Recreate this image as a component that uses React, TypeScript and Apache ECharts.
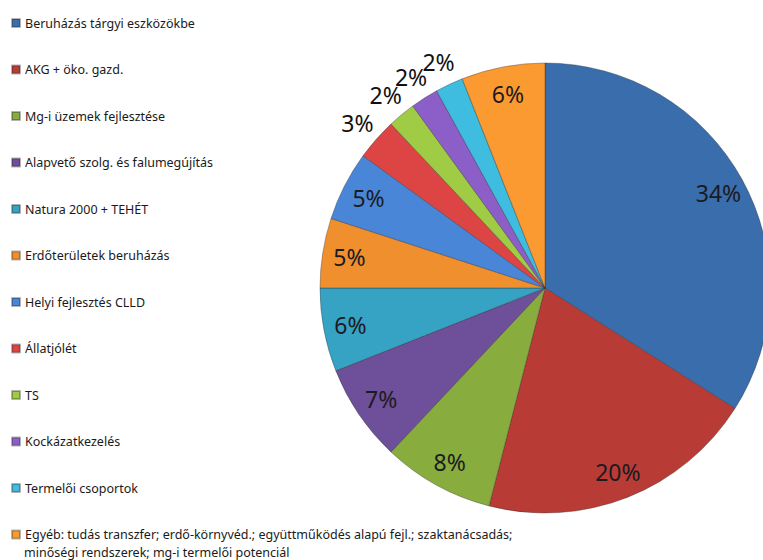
import React, { useEffect, useRef } from "react";
import * as echarts from "echarts";

const categories = [
  "Beruházás tárgyi eszközökbe",
  "AKG + öko. gazd.",
  "Mg-i üzemek fejlesztése",
  "Alapvető szolg. és falumegújítás",
  "Natura 2000 + TEHÉT",
  "Erdőterületek beruházás",
  "Helyi fejlesztés CLLD",
  "Állatjólét",
  "TS",
  "Kockázatkezelés",
  "Termelői csoportok",
  "Egyéb: tudás transzfer; erdő-környvéd.; együttműködés alapú fejl.; szaktanácsadás;\nminőségi rendszerek; mg-i termelői potenciál",
];

const shares = [34, 20, 8, 7, 6, 5, 5, 3, 2, 2, 2, 6];

const colors = [
  "#3A6DAC",
  "#B83B36",
  "#88AC3D",
  "#6E4F99",
  "#36A3C4",
  "#F08F2E",
  "#4A86D8",
  "#DD4544",
  "#9FCB45",
  "#8C5FC8",
  "#3FBDE0",
  "#FB9A30",
];

const INSIDE_MIN = 5;

export default function App() {
  const ref = useRef<HTMLDivElement>(null);

  useEffect(() => {
    if (!ref.current) return;
    const chart = echarts.init(ref.current, null, { renderer: "svg" });

    const mainData = categories.map((name, i) => ({
      name,
      value: shares[i],
      itemStyle: { color: colors[i] },
    }));

    const insideLabelData = categories.map((name, i) => ({
      name,
      value: shares[i],
      label: { show: shares[i] >= INSIDE_MIN },
    }));
    const outsideLabelData = categories.map((name, i) => ({
      name,
      value: shares[i],
      label: { show: shares[i] < INSIDE_MIN },
    }));

    const labelFont = {
      fontFamily: "'Noto Sans', sans-serif",
      fontSize: 23,
      color: "#1b1b22",
      formatter: "{c}%",
    };

    const legendFont = "'Noto Sans', sans-serif";
    const lastParts = categories[categories.length - 1].split("\n");

    const overlayBase = {
      type: "pie",
      center: [545, 288],
      startAngle: 90,
      clockwise: true,
      silent: true,
      avoidLabelOverlap: false,
      labelLayout: { hideOverlap: false },
      itemStyle: { color: "rgba(0,0,0,0)" },
      labelLine: { show: false },
      emphasis: { disabled: true },
    };

    chart.setOption({
      animation: false,
      backgroundColor: "#ffffff",
      legend: {
        orient: "vertical",
        left: 11,
        top: 15,
        padding: 0,
        itemWidth: 8,
        itemHeight: 8,
        itemGap: 30.5,
        icon: "rect",
        selectedMode: false,
        textStyle: {
          fontFamily: legendFont,
          fontSize: 12.5,
          lineHeight: 16,
          color: "#1a1a1a",
        },
        formatter: (name: string) => name.split("\n")[0],
        data: categories.map((name, i) => ({
          name,
          itemStyle: { color: colors[i] },
        })),
      },
      graphic: [
        {
          type: "text",
          left: 24,
          top: 546,
          style: {
            text: lastParts[1],
            fontFamily: legendFont,
            fontSize: 12.5,
            fill: "#1a1a1a",
          },
        },
      ],
      series: [
        {
          type: "pie",
          center: [545, 288],
          radius: [0, 225],
          startAngle: 90,
          clockwise: true,
          silent: true,
          label: { show: false },
          labelLine: { show: false },
          itemStyle: { borderColor: "rgba(40,40,40,0.35)", borderWidth: 1 },
          emphasis: { disabled: true },
          data: mainData,
        },
        {
          ...overlayBase,
          radius: [0, 390],
          label: { position: "inside", ...labelFont },
          data: insideLabelData,
        },
        {
          ...overlayBase,
          radius: [0, 494],
          label: { position: "inside", ...labelFont, color: "#111111" },
          data: outsideLabelData,
        },
      ],
    });

    return () => chart.dispose();
  }, []);

  return (
    <div
      ref={ref}
      style={{ position: "absolute", left: 0, top: 0, width: 763, height: 560 }}
    />
  );
}
